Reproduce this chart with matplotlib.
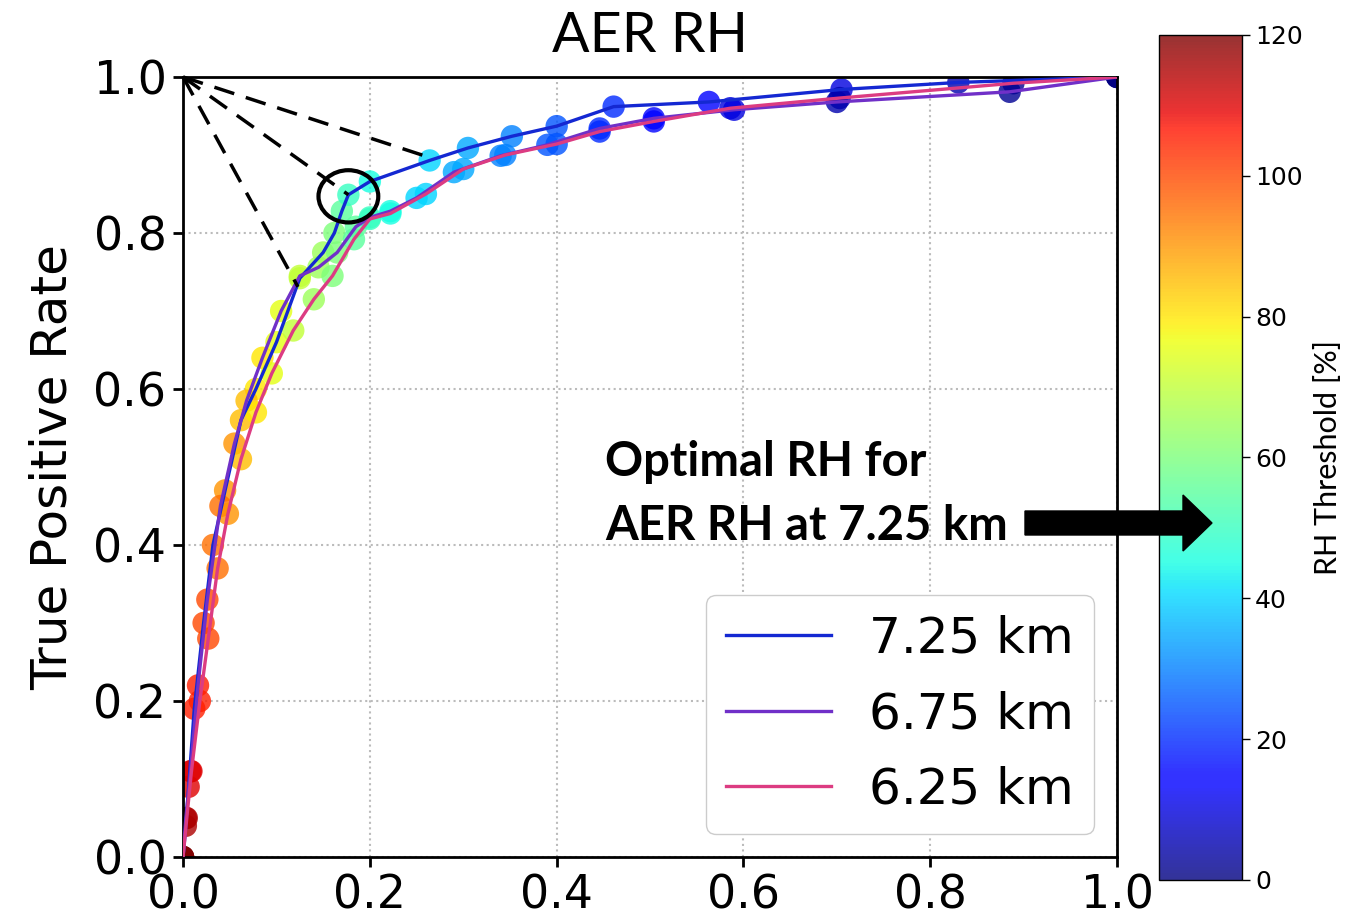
import matplotlib
matplotlib.use("Agg")
import matplotlib.pyplot as plt
from matplotlib.patches import Ellipse, FancyArrow

# ROC points, colored by RH threshold [%]
thr_725 = [120, 115, 110, 105, 100, 95, 90, 85, 80, 75, 70, 65, 60, 55, 50, 45, 40, 35, 30, 25, 20, 15, 10, 5, 0]
fpr_725 = [0.0, 0.003, 0.006, 0.012, 0.022, 0.032, 0.045, 0.062, 0.078, 0.100, 0.125, 0.150, 0.162,
           0.170, 0.177, 0.200, 0.264, 0.305, 0.352, 0.400, 0.461, 0.563, 0.705, 0.830, 1.0]
tpr_725 = [0.0, 0.04, 0.09, 0.19, 0.30, 0.40, 0.47, 0.56, 0.60, 0.66, 0.742, 0.775, 0.800,
           0.828, 0.849, 0.866, 0.893, 0.909, 0.924, 0.937, 0.962, 0.968, 0.984, 0.993, 1.0]

thr_675 = [120, 115, 110, 105, 100, 95, 90, 85, 80, 75, 70, 65, 60, 55, 50, 45, 40, 35, 30, 25, 20, 15, 10, 5, 2, 0]
fpr_675 = [0.0, 0.003, 0.008, 0.016, 0.026, 0.040, 0.055, 0.068, 0.085, 0.105, 0.125, 0.145, 0.165,
           0.185, 0.200, 0.222, 0.250, 0.290, 0.340, 0.390, 0.446, 0.504, 0.590, 0.700, 0.885, 1.0]
tpr_675 = [0.0, 0.05, 0.11, 0.22, 0.33, 0.45, 0.53, 0.585, 0.64, 0.70, 0.745, 0.756, 0.775,
           0.808, 0.820, 0.828, 0.845, 0.878, 0.899, 0.913, 0.934, 0.947, 0.958, 0.968, 0.981, 1.0]

thr_625 = [120, 115, 110, 105, 100, 95, 90, 85, 80, 75, 70, 65, 60, 55, 50, 45, 40, 35, 30, 25, 20, 15, 10, 5, 2, 0]
fpr_625 = [0.0, 0.004, 0.009, 0.018, 0.027, 0.037, 0.048, 0.062, 0.078, 0.095, 0.118, 0.140, 0.160,
           0.183, 0.200, 0.222, 0.260, 0.300, 0.345, 0.400, 0.446, 0.504, 0.586, 0.703, 0.889, 1.0]
tpr_625 = [0.0, 0.05, 0.11, 0.20, 0.28, 0.37, 0.44, 0.51, 0.57, 0.62, 0.675, 0.715, 0.745,
           0.792, 0.818, 0.825, 0.850, 0.882, 0.900, 0.914, 0.930, 0.943, 0.960, 0.973, 0.992, 1.0]

labels = ["7.25 km", "6.75 km", "6.25 km"]
line_colors = ["#1428d2", "#7030c8", "#dc3c82"]

# dashed guide lines from (0, 1) to candidate points, and the circled optimum
guide_fpr = [0.266, 0.177, 0.123]
guide_tpr = [0.896, 0.849, 0.731]
opt_fpr, opt_tpr = 0.177, 0.847

fig = plt.figure(figsize=(13.6, 9.22), dpi=100)
ax = fig.add_axes([0.1346, 0.0705, 0.6868, 0.846])
cax = fig.add_axes([0.8522, 0.0456, 0.0610, 0.9165])

series = [(fpr_725, tpr_725, thr_725), (fpr_675, tpr_675, thr_675), (fpr_625, tpr_625, thr_625)]
for fpr, tpr, thr in series:
    sc = ax.scatter(fpr, tpr, c=thr, cmap="jet", vmin=0, vmax=120, s=260,
                    alpha=0.8, linewidths=0, zorder=2)
for (fpr, tpr, thr), lab, col in zip(series, labels, line_colors):
    ax.plot(fpr, tpr, color=col, lw=2.4, label=lab, zorder=3)

for gx, gy in zip(guide_fpr, guide_tpr):
    ax.plot([0, gx], [1, gy], color="black", lw=2.5, dashes=(6, 3.5), zorder=4, clip_on=False)
ax.add_patch(Ellipse((opt_fpr, opt_tpr), 0.064, 0.067, fill=False, ec="black", lw=3, zorder=5))

ax.set_xlim(0, 1)
ax.set_ylim(0, 1)
ax.set_xticks([0, 0.2, 0.4, 0.6, 0.8, 1.0])
ax.set_yticks([0, 0.2, 0.4, 0.6, 0.8, 1.0])
ax.grid(True, linestyle=":", color="#bbbbbb", lw=1.5)
ax.tick_params(labelsize=33, length=7, width=2, pad=5)
for sp in ax.spines.values():
    sp.set_linewidth(2)
ax.set_ylabel("True Positive Rate", fontsize=36, labelpad=12)
ax.set_title("AER RH", fontsize=40, family="Lato", pad=18)

ax.legend(loc="lower right", bbox_to_anchor=(0.975, 0.03), borderaxespad=0,
          fontsize=36, handlelength=2.1, labelspacing=0.55, handletextpad=0.75,
          framealpha=1, edgecolor="#cccccc")

cb = fig.colorbar(sc, cax=cax, ticks=[0, 20, 40, 60, 80, 100, 120])
cb.ax.tick_params(labelsize=18, length=6, width=1)
cb.set_label("RH Threshold [%]", fontsize=22, family="Lato", labelpad=8)
cb.outline.set_linewidth(1)

fig.text(0.445, 0.4837, "Optimal RH for", fontsize=34, family="Lato",
         fontweight="bold", va="baseline")
fig.text(0.445, 0.414, "AER RH at 7.25 km", fontsize=34, family="Lato",
         fontweight="bold", va="baseline")
fig.add_artist(FancyArrow(10.25, 3.99, 1.87, 0, width=0.24, head_width=0.56,
                          head_length=0.29, length_includes_head=True,
                          color="black", transform=fig.dpi_scale_trans, zorder=10))

fig.savefig("out.png", dpi=100)
